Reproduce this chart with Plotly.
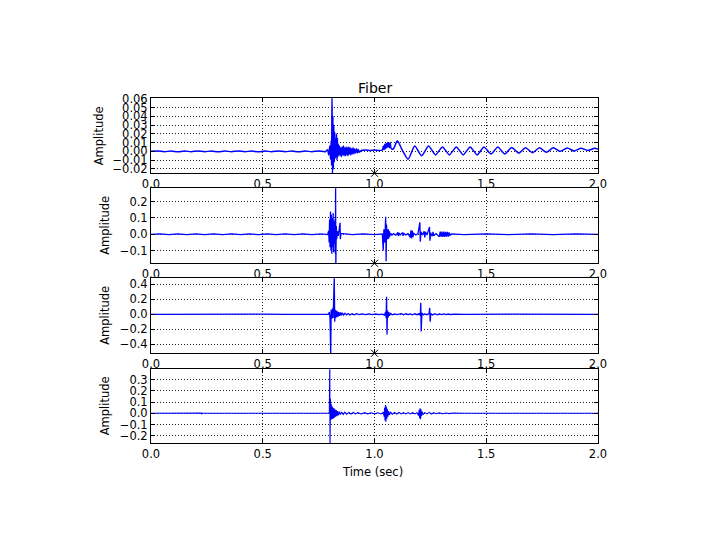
import plotly.graph_objects as go

# ---------------- data ----------------
fiber_t = [0.000, 0.030, 0.060, 0.090, 0.120, 0.150, 0.180, 0.210, 0.240, 0.270,
           0.300, 0.330, 0.360, 0.390, 0.420, 0.450, 0.480, 0.510, 0.540, 0.570,
           0.600, 0.630, 0.660, 0.690, 0.720, 0.750, 0.780,
           0.790, 0.795, 0.800, 0.803, 0.806, 0.808, 0.810, 0.812, 0.814, 0.816,
           0.818, 0.820, 0.822, 0.824, 0.826, 0.828, 0.830, 0.832, 0.834, 0.836,
           0.838, 0.840,
           0.843, 0.846, 0.849, 0.852, 0.855, 0.858, 0.861, 0.864, 0.867, 0.870,
           0.873, 0.876, 0.879, 0.882, 0.885, 0.888, 0.891, 0.894, 0.897, 0.900,
           0.904, 0.908, 0.912, 0.916, 0.920, 0.924, 0.928, 0.932,
           0.940, 0.960, 0.980, 1.000, 1.020, 1.035,
           1.040, 1.043, 1.046, 1.049, 1.052, 1.055, 1.058, 1.061, 1.064, 1.067,
           1.070, 1.075, 1.085, 1.102, 1.127, 1.150,
           1.180, 1.211, 1.242, 1.273, 1.304, 1.335, 1.366, 1.397, 1.428, 1.459,
           1.490, 1.521, 1.552, 1.583, 1.614, 1.645, 1.676, 1.707, 1.738, 1.769,
           1.800, 1.831, 1.862, 1.893, 1.924, 1.955, 1.986, 2.000]
fiber_y = [0.0000, 0.0005, -0.0004, 0.0004, -0.0005, 0.0004, -0.0004, 0.0005, -0.0004, 0.0004,
           -0.0005, 0.0004, -0.0004, 0.0005, -0.0004, 0.0004, -0.0005, 0.0004, -0.0004, 0.0005,
           -0.0004, 0.0004, -0.0005, 0.0004, -0.0004, 0.0005, -0.0004,
           0.002, -0.004, 0.006, -0.009, 0.012, -0.016, 0.070, -0.030, 0.040, -0.020,
           0.030, -0.012, 0.022, -0.008, 0.014, -0.006, 0.020, -0.010, 0.015, -0.006,
           0.008, -0.004,
           0.006, -0.005, 0.004, -0.006, 0.005, -0.004, 0.006, -0.005, 0.004, -0.005,
           0.005, -0.004, 0.004, -0.005, 0.005, -0.003, 0.004, -0.004, 0.003, -0.003,
           0.004, -0.003, 0.003, -0.002, 0.003, -0.002, 0.002, -0.001,
           0.001, 0.0015, 0.001, 0.0015, 0.001, 0.0015,
           0.006, 0.002, 0.008, 0.003, 0.009, 0.004, 0.010, 0.005, 0.009, 0.004,
           0.010, 0.003, 0.003, 0.012, 0.000, -0.009,
           0.006, -0.005, 0.006, -0.004, 0.005, -0.004, 0.005, -0.004, 0.005, -0.004,
           0.005, -0.003, 0.005, -0.003, 0.0045, -0.002, 0.004, -0.0015, 0.004, -0.001,
           0.004, 0.000, 0.0038, 0.0005, 0.0035, 0.001, 0.0035, 0.0025]

ch2_t = [0.000, 0.040, 0.080, 0.120, 0.160, 0.200, 0.240, 0.280, 0.320, 0.360,
         0.400, 0.440, 0.480, 0.520, 0.560, 0.600, 0.640, 0.680, 0.720, 0.760, 0.790,
         0.795, 0.797, 0.799, 0.801, 0.803, 0.805, 0.807, 0.809, 0.811, 0.813,
         0.815, 0.817, 0.819, 0.821, 0.823, 0.825, 0.826, 0.827, 0.829, 0.831,
         0.834, 0.838, 0.846, 0.847, 0.850,
         0.900, 0.950, 1.000, 1.035,
         1.039, 1.042, 1.046, 1.050, 1.052, 1.054, 1.056, 1.058, 1.060, 1.062,
         1.064, 1.066, 1.068, 1.072, 1.078, 1.085, 1.095, 1.105, 1.107, 1.110,
         1.115, 1.125, 1.128, 1.131, 1.140, 1.150, 1.160, 1.163, 1.166, 1.169,
         1.172, 1.176, 1.185, 1.195, 1.203, 1.205, 1.208, 1.215, 1.222, 1.225,
         1.228, 1.235, 1.246, 1.248, 1.251, 1.258, 1.262, 1.265, 1.275, 1.290,
         1.294, 1.298, 1.302, 1.306, 1.310, 1.314, 1.318, 1.322, 1.326, 1.330,
         1.334, 1.338, 1.345,
         1.400, 1.500, 1.600, 1.700, 1.800, 1.900, 2.000]
ch2_y = [0.000, 0.002, -0.002, 0.002, -0.002, 0.002, -0.002, 0.002, -0.002, 0.002,
         -0.002, 0.002, -0.002, 0.002, -0.002, 0.002, -0.002, 0.002, -0.002, 0.002, -0.002,
         0.020, -0.050, 0.090, -0.080, 0.140, -0.100, 0.120, -0.120, 0.100, -0.080,
         0.130, -0.110, 0.080, -0.060, 0.090, -0.120, 0.300, -0.200, 0.050, -0.030,
         0.020, -0.010, 0.070, -0.030, 0.005,
         -0.002, 0.002, -0.002, 0.002,
         -0.100, 0.030, -0.050, 0.108, -0.165, 0.060, -0.030, 0.030, -0.030, 0.030,
         -0.025, 0.020, -0.015, 0.008, -0.006, 0.004, -0.005, 0.012, -0.012, 0.008,
         -0.004, 0.010, -0.010, 0.006, -0.004, 0.004, -0.020, 0.025, -0.025, 0.022,
         -0.018, 0.006, -0.004, 0.005, 0.073, -0.045, 0.015, -0.004, 0.018, -0.020,
         0.015, -0.004, 0.045, -0.040, 0.010, -0.012, 0.015, -0.010, 0.004, -0.015,
         0.016, -0.016, 0.016, -0.016, 0.016, -0.016, 0.015, -0.015, 0.015, -0.014,
         0.012, -0.006, 0.002,
         -0.002, 0.002, -0.002, 0.002, -0.002, 0.002, 0.000]

ch3_t = [0.000, 0.100, 0.200, 0.300, 0.400, 0.500, 0.600, 0.700, 0.795,
         0.798, 0.801, 0.804, 0.806, 0.809, 0.812, 0.815, 0.818, 0.820, 0.822,
         0.824, 0.826, 0.828, 0.831, 0.834, 0.837, 0.840, 0.844, 0.848, 0.852,
         0.856, 0.862, 0.868, 0.875, 0.882, 0.890, 0.900, 0.910, 0.920, 0.930,
         0.945, 0.960, 0.975, 0.990, 1.005, 1.020, 1.035,
         1.045, 1.050, 1.052, 1.054, 1.056, 1.058, 1.061, 1.064, 1.067, 1.072,
         1.080, 1.090, 1.100, 1.120, 1.130, 1.140, 1.150, 1.160, 1.170, 1.180,
         1.190, 1.200, 1.205, 1.207, 1.209, 1.212, 1.218, 1.225, 1.235, 1.244,
         1.247, 1.249, 1.252, 1.260, 1.270, 1.280, 1.290, 1.300, 1.310, 1.320,
         1.330, 1.340, 1.360, 1.400, 1.600, 1.800, 2.000]
ch3_y = [0.000, 0.002, -0.002, 0.002, -0.002, 0.002, -0.002, 0.002, 0.000,
         0.030, -0.040, -0.550, 0.060, -0.060, 0.080, -0.050, 0.150, 0.500, -0.100,
         0.060, -0.050, 0.050, -0.040, 0.040, -0.030, 0.030, -0.020, 0.025, -0.015,
         0.020, -0.010, 0.015, -0.008, 0.010, -0.008, 0.008, -0.006, 0.007, -0.005,
         0.006, -0.004, 0.005, -0.004, 0.004, -0.004, 0.003,
         -0.010, 0.030, -0.050, 0.235, -0.270, 0.050, -0.040, 0.030, -0.020, 0.010,
         -0.006, 0.006, -0.004, 0.008, -0.006, 0.008, -0.005, 0.006, -0.006, 0.008,
         -0.005, 0.010, -0.020, 0.155, -0.230, 0.020, -0.008, 0.006, -0.005, 0.010,
         0.085, -0.100, 0.010, -0.008, 0.008, -0.006, 0.006, -0.005, 0.005, -0.004,
         0.004, -0.003, 0.002, -0.001, 0.001, -0.001, 0.000]

ch4_t = [0.000, 0.100, 0.200, 0.222, 0.225, 0.227, 0.229, 0.232, 0.300, 0.400,
         0.500, 0.600, 0.700, 0.795,
         0.798, 0.800, 0.801, 0.803, 0.805, 0.807, 0.809, 0.811, 0.813, 0.815,
         0.817, 0.819, 0.821, 0.823, 0.826, 0.829, 0.832, 0.835, 0.839, 0.843,
         0.848, 0.853, 0.860, 0.867, 0.875, 0.885, 0.895, 0.905, 0.915, 0.925,
         0.940, 0.955, 0.970, 0.985, 1.000, 1.015, 1.030,
         1.040, 1.043, 1.045, 1.047, 1.049, 1.051, 1.053, 1.055, 1.057, 1.060,
         1.063, 1.067, 1.072, 1.080, 1.090, 1.100, 1.110, 1.120, 1.130, 1.140,
         1.150, 1.160, 1.170, 1.180, 1.190, 1.197, 1.200, 1.202, 1.204, 1.206,
         1.208, 1.210, 1.213, 1.217, 1.225, 1.235, 1.245, 1.255, 1.265, 1.275,
         1.290, 1.305, 1.320, 1.335, 1.350, 1.400, 1.700, 2.000]
ch4_y = [0.000, 0.000, 0.000, 0.003, -0.004, 0.004, -0.003, 0.000, 0.000, 0.000,
         0.000, 0.000, 0.000, 0.000,
         0.010, 0.450, -0.300, 0.130, -0.060, 0.080, -0.050, 0.060, -0.050, 0.050,
         -0.045, 0.045, -0.040, 0.035, -0.030, 0.030, -0.025, 0.020, -0.018, 0.015,
         -0.012, 0.012, -0.010, 0.010, -0.008, 0.008, -0.006, 0.007, -0.006, 0.006,
         -0.006, 0.006, -0.005, 0.005, -0.005, 0.005, -0.006,
         0.010, -0.030, 0.050, -0.065, 0.074, -0.075, 0.060, -0.050, 0.040, -0.030,
         0.020, -0.015, 0.010, -0.008, 0.008, -0.006, 0.007, -0.006, 0.006, -0.005,
         0.006, -0.006, 0.005, -0.005, 0.006, -0.020, 0.030, -0.045, 0.045, -0.054,
         0.035, -0.025, 0.015, -0.010, 0.006, -0.005, 0.008, -0.006, 0.006, -0.004,
         0.004, -0.004, 0.003, -0.003, 0.002, 0.000, 0.000, 0.000]

x_ticks = [0.0, 0.5, 1.0, 1.5, 2.0]
y_ticks = [
    [-0.02, -0.01, 0.00, 0.01, 0.02, 0.03, 0.04, 0.05, 0.06],
    [-0.1, 0.0, 0.1, 0.2],
    [-0.4, -0.2, 0.0, 0.2, 0.4],
    [-0.2, -0.1, 0.0, 0.1, 0.2, 0.3],
]
y_formats = [".2f", ".1f", ".1f", ".1f"]
y_ranges = [[-0.025, 0.0605], [-0.178, 0.282], [-0.52, 0.48], [-0.268, 0.393]]

title_text = "Fiber"
y_title = "Amplitude"
x_title = "Time (sec)"

# ---------------- figure ----------------
# The page body has an 8px margin, so the figure is laid out in page pixels minus 8.
OFF = 8
W, H = 720 - OFF, 540 - OFF
FONT = "DejaVu Sans"
BLUE = "#0000ff"


def px_x(x):
    return (x - OFF) / W


def px_y(y):
    return 1 - (y - OFF) / H


x_dom = [px_x(151), px_x(598)]
panel_px = [(98.3, 173.3), (188.3, 263.3), (278.3, 353.3), (369.3, 443.3)]
y_doms = [[px_y(b), px_y(t)] for t, b in panel_px]

series = [(fiber_t, fiber_y, 1.5), (ch2_t, ch2_y, 1.3), (ch3_t, ch3_y, 1.3), (ch4_t, ch4_y, 1.1)]

fig = go.Figure()
layout = dict(
    width=W, height=H,
    margin=dict(l=0, r=0, t=0, b=0, pad=0),
    paper_bgcolor="white", plot_bgcolor="white",
    showlegend=False,
    font=dict(family=FONT, size=11.5, color="black"),
)

for i, (tt, yy, lw) in enumerate(series):
    n = "" if i == 0 else str(i + 1)
    fig.add_trace(go.Scatter(
        x=tt, y=yy, mode="lines",
        line=dict(color=BLUE, width=lw, shape="spline" if i == 0 else "linear", smoothing=0.6),
        xaxis="x" + n, yaxis="y" + n, hoverinfo="skip",
    ))
    if i < 3:
        fig.add_trace(go.Scatter(
            x=[1.0], y=[y_ranges[i][0]], mode="markers", cliponaxis=False,
            marker=dict(symbol="x-thin", size=7, line=dict(color="black", width=1)),
            xaxis="x" + n, yaxis="y" + n, hoverinfo="skip",
        ))
    common = dict(
        automargin=False,
        showline=True, linecolor="black", linewidth=1, mirror="allticks",
        ticks="inside", ticklen=4, tickwidth=1, tickcolor="black",
        showgrid=True, gridcolor="#222222", gridwidth=0.8, griddash="1px,2px",
        zeroline=False, tickfont=dict(family=FONT, size=11.5, color="black"),
    )
    layout["xaxis" + n] = dict(
        domain=x_dom, anchor="y" + n, range=[0, 2], tickvals=x_ticks,
        tickformat=".1f", **common,
    )
    layout["yaxis" + n] = dict(
        domain=y_doms[i], anchor="x" + n, range=y_ranges[i], tickvals=y_ticks[i],
        tickformat=y_formats[i], **common,
    )

annotations = [
    dict(text=title_text, x=px_x(375), y=px_y(88), xref="paper", yref="paper",
         showarrow=False, xanchor="center", yanchor="middle",
         font=dict(family=FONT, size=14, color="black")),
    dict(text=x_title, x=px_x(373), y=px_y(471.5), xref="paper", yref="paper",
         showarrow=False, xanchor="center", yanchor="middle",
         font=dict(family=FONT, size=11.5, color="black")),
]
title_x = [98.5, 105, 105, 105]
for i, (t, b) in enumerate(panel_px):
    annotations.append(dict(
        text=y_title, x=px_x(title_x[i]), y=px_y((t + b) / 2), xref="paper", yref="paper",
        showarrow=False, textangle=-90, xanchor="center", yanchor="middle",
        font=dict(family=FONT, size=11.5, color="black")))
layout["annotations"] = annotations

fig.update_layout(**layout)
fig.write_html("out.html")
